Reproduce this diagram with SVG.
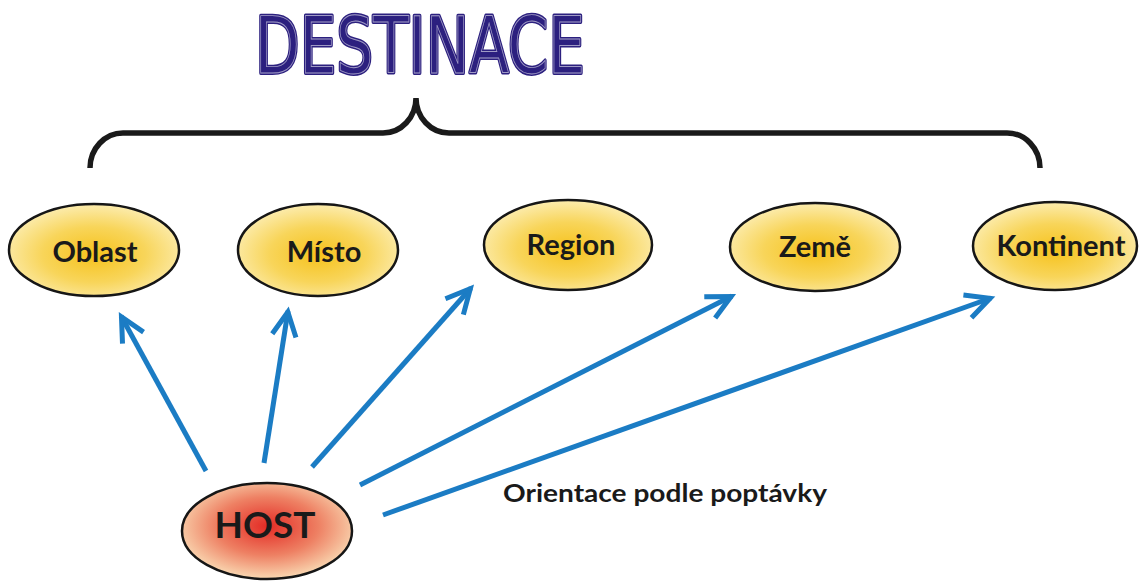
<svg xmlns="http://www.w3.org/2000/svg" width="1139" height="581" viewBox="0 0 1139 581">
  <style>
    .node ellipse { stroke: #161616; stroke-width: 2.5; }
    .yellow ellipse { fill: url(#gradYellow); }
    .red ellipse { fill: url(#gradRed); }
    .label { font-family: Lato, "Open Sans", "Liberation Sans", sans-serif; font-weight: bold; fill: #1a1a1a; text-anchor: middle; }
    .conn line { stroke: #1b7cc4; stroke-width: 5; fill: none; marker-end: url(#chevron); }
    .title { font-family: "DejaVu Sans", "Liberation Sans", sans-serif; font-weight: normal; font-size: 78px; }
    .title-body { fill: #2c207f; stroke: #2c207f; stroke-width: 4; stroke-linejoin: round; }
    .title-shine { fill: none; stroke: #ffffff; stroke-width: 0.9; stroke-opacity: 0.55; }
  </style>
  <defs>
    <radialGradient id="gradYellow" cx="50%" cy="55%" r="55%">
      <stop offset="0" stop-color="#f6c21c"/>
      <stop offset="0.55" stop-color="#f8d55a"/>
      <stop offset="1" stop-color="#fcecae"/>
    </radialGradient>
    <radialGradient id="gradRed" cx="50%" cy="45%" r="55%">
      <stop offset="0" stop-color="#e32b25"/>
      <stop offset="0.55" stop-color="#ee8063"/>
      <stop offset="1" stop-color="#f9d8b2"/>
    </radialGradient>
    <marker id="chevron" markerUnits="userSpaceOnUse" markerWidth="40" markerHeight="40" viewBox="-30 -20 40 40" refX="1" refY="0" orient="auto" overflow="visible">
      <path d="M-24,-12 L0,0 L-24,12" fill="none" stroke="#1b7cc4" stroke-width="5"/>
    </marker>
  </defs>

  <rect width="1139" height="581" fill="#ffffff"/>

  <!-- heading: filled letters with a thin light line along the glyph edges -->
  <g id="title">
    <text class="title title-body" x="255" y="73" textLength="330" lengthAdjust="spacingAndGlyphs">DESTINACE</text>
    <text class="title title-shine" x="255" y="73" textLength="330" lengthAdjust="spacingAndGlyphs">DESTINACE</text>
  </g>
  <!-- brace grouping the destination levels -->
  <path d="M90,168 A33,35 0 0 1 123,133 L383,133 A33,35 0 0 0 416,98 A33,35 0 0 0 449,133 L1007,133 A33,35 0 0 1 1040,168" fill="none" stroke="#1a1a1a" stroke-width="5.5"/>

  <!-- connectors from HOST to each level -->
  <g id="connectors" class="conn">
    <line x1="206" y1="471" x2="121" y2="316"/>
    <line x1="264" y1="463" x2="288" y2="311"/>
    <line x1="312" y1="467" x2="471" y2="288"/>
    <line x1="360" y1="485" x2="732" y2="296"/>
    <line x1="383" y1="515" x2="991" y2="298"/>
  </g>

  <g id="oblast" class="node yellow">
    <ellipse cx="94" cy="250" rx="85" ry="46"/>
    <text class="label" x="95" y="262" font-size="29">Oblast</text>
  </g>
  <g id="misto" class="node yellow">
    <ellipse cx="318" cy="250" rx="80" ry="46"/>
    <text class="label" x="324" y="262" font-size="29">Místo</text>
  </g>
  <g id="region" class="node yellow">
    <ellipse cx="568" cy="245" rx="84" ry="45"/>
    <text class="label" x="571" y="255" font-size="29">Region</text>
  </g>
  <g id="zeme" class="node yellow">
    <ellipse cx="815" cy="247" rx="85" ry="44"/>
    <text class="label" x="815" y="257" font-size="29">Země</text>
  </g>
  <g id="kontinent" class="node yellow">
    <ellipse cx="1055" cy="246" rx="82" ry="44"/>
    <text class="label" x="1061" y="256" font-size="29">Kontinent</text>
  </g>
  <g id="host" class="node red">
    <ellipse cx="267" cy="531" rx="85" ry="48"/>
    <text class="label" x="265" y="538" font-size="37">HOST</text>
  </g>

  <text class="label" x="665" y="502" font-size="25" textLength="324" lengthAdjust="spacingAndGlyphs">Orientace podle poptávky</text>
</svg>
